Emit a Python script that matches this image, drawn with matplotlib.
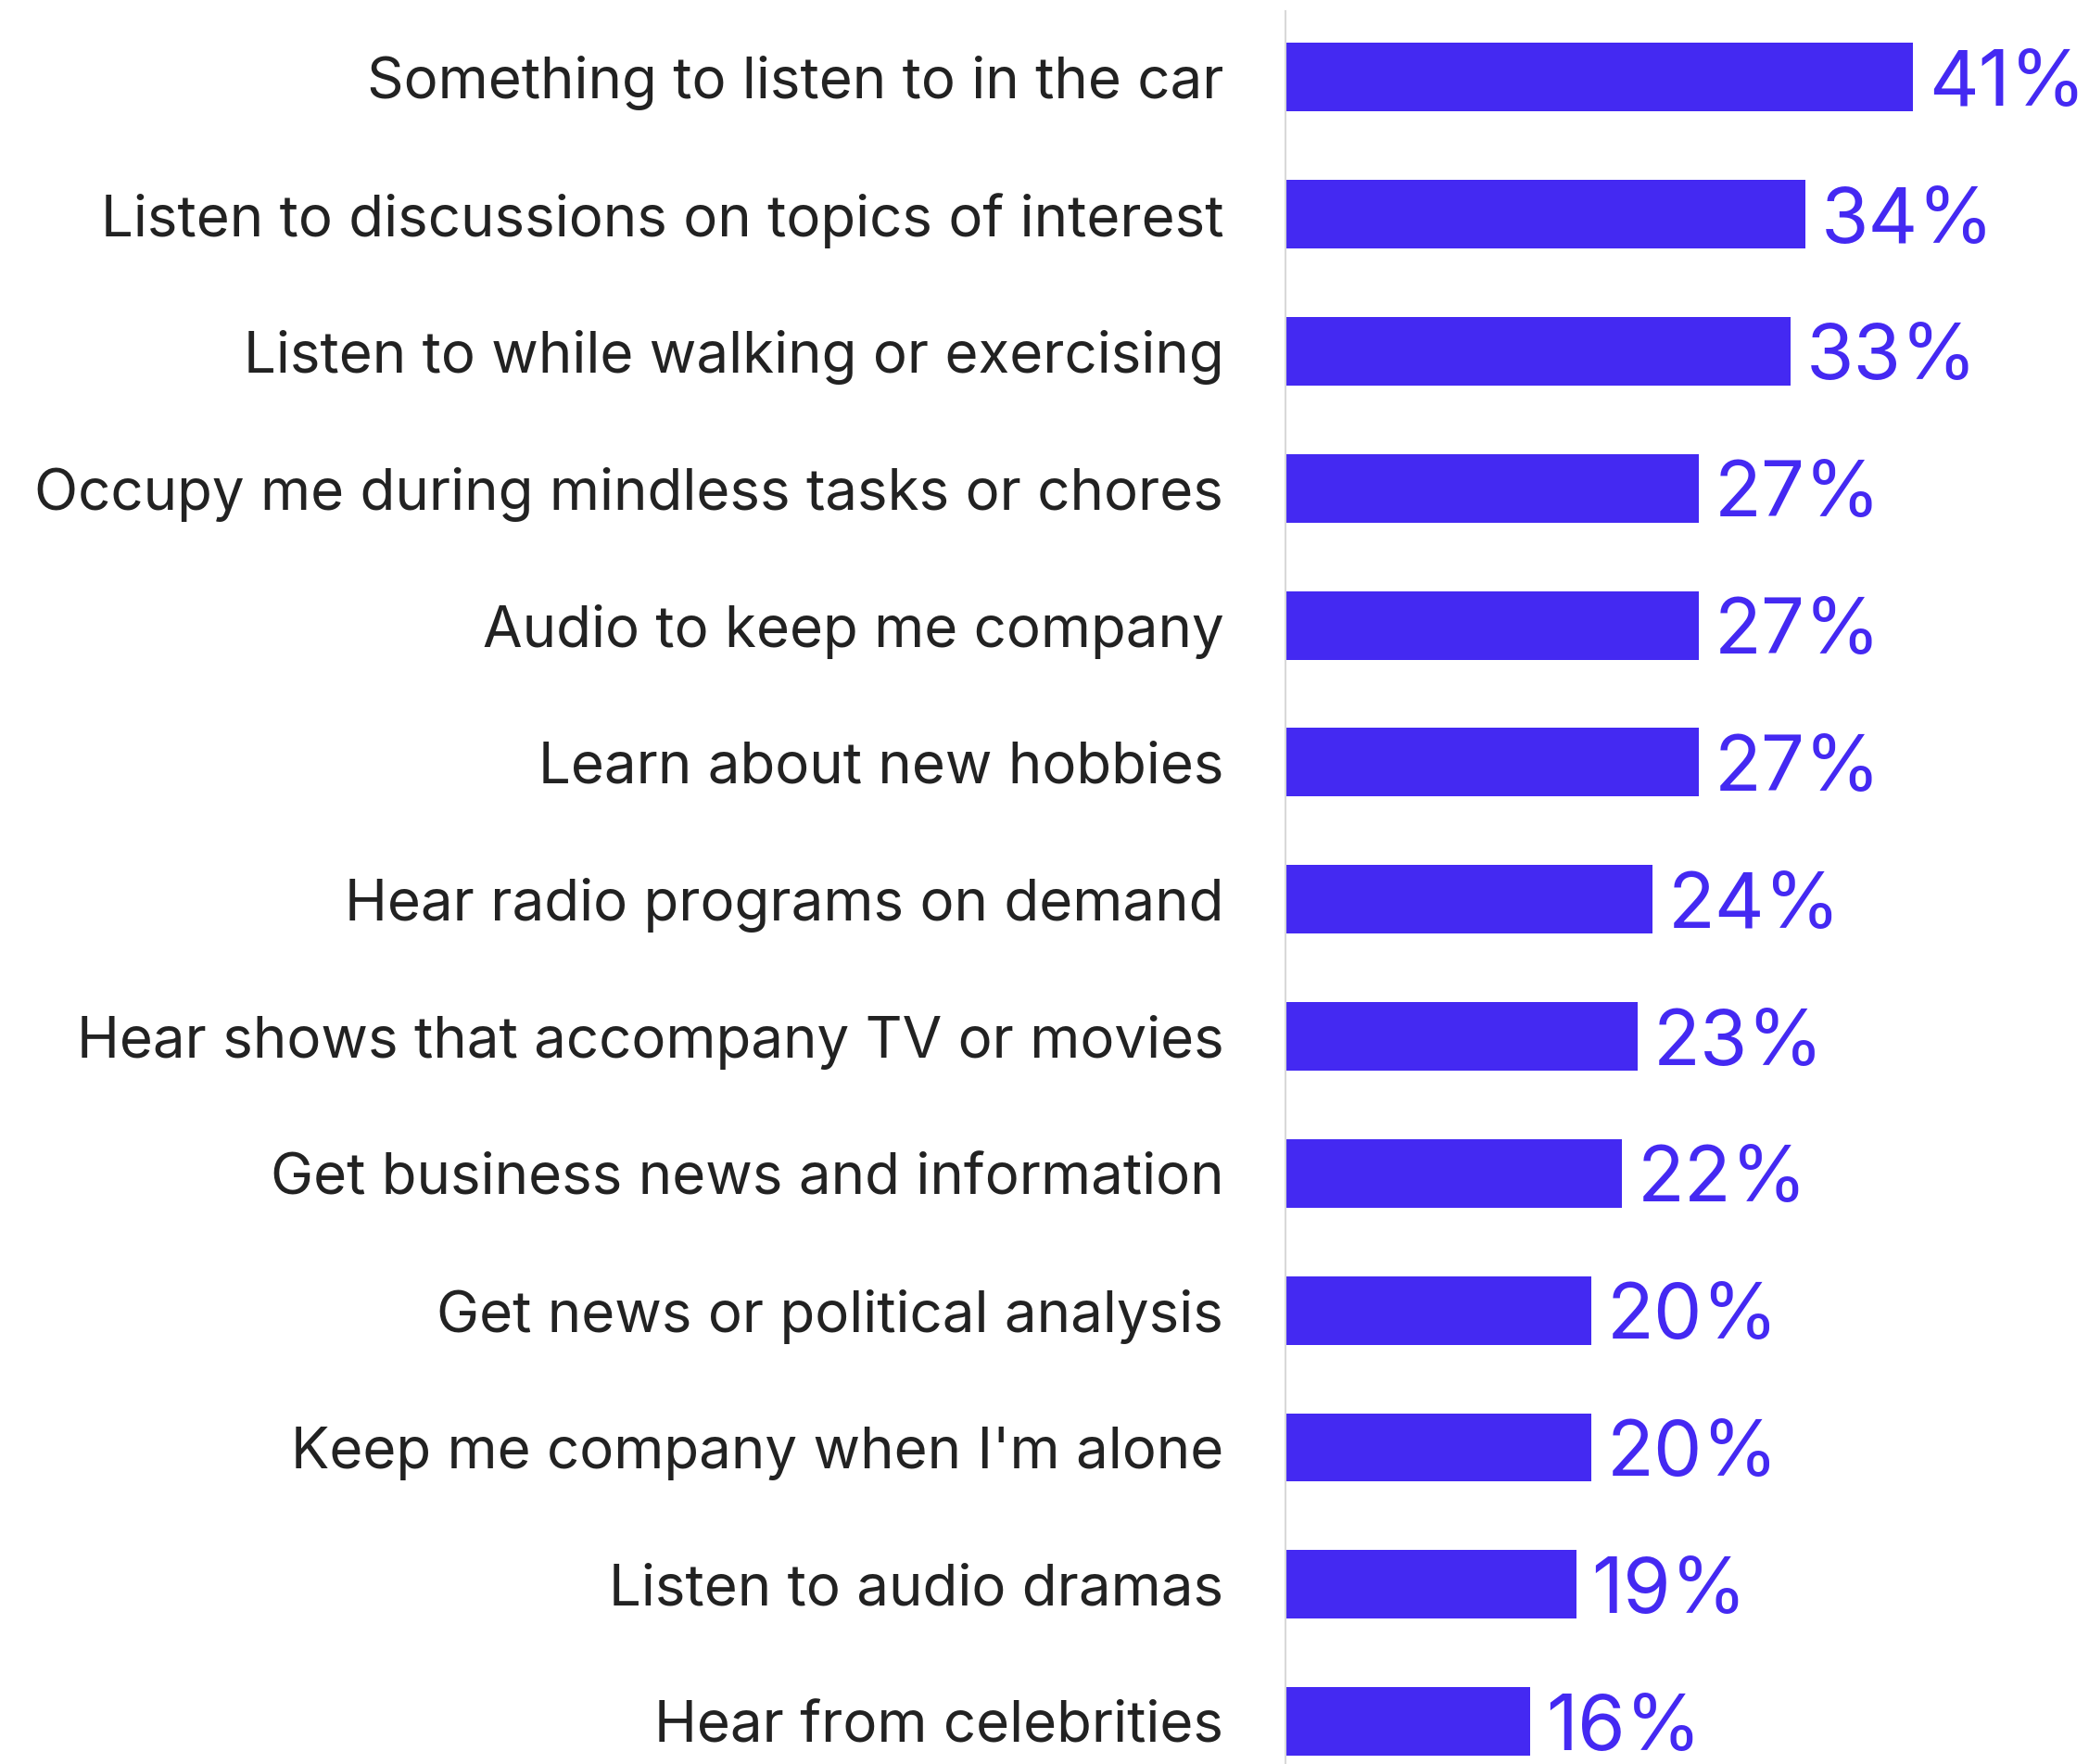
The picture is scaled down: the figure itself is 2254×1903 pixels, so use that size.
import matplotlib.pyplot as plt

# Причины слушать подкасты, доля ответов (%)
reasons = [
    'Something to listen to in the car',
    'Listen to discussions on topics of interest',
    'Listen to while walking or exercising',
    'Occupy me during mindless tasks or chores',
    'Audio to keep me company',
    'Learn about new hobbies',
    'Hear radio programs on demand',
    'Hear shows that accompany TV or movies',
    'Get business news and information',
    'Get news or political analysis',
    "Keep me company when I'm alone",
    'Listen to audio dramas',
    'Hear from celebrities',
]
shares = [41, 34, 33, 27, 27, 27, 24, 23, 22, 20, 20, 19, 16]

bar_color = '#4429F2'
text_color = '#222222'

plt.rcParams['font.family'] = ['Inter', 'DejaVu Sans']

fig = plt.figure(figsize=(22.54, 19.03), dpi=100)
# оси начинаются там, где вертикальная линия; подписи категорий слева
ax = fig.add_axes([1387/2254, 0.0, 1 - 1387/2254, 1 - 11.5/1903])

y = list(range(len(reasons)))
bars = ax.barh(y, shares, height=0.5, color=bar_color)

ax.set_ylim(12.31, -0.486)
ax.set_xlim(0, 52.5)

ax.set_yticks(y)
ax.set_yticklabels(reasons, fontsize=44.5, color=text_color)
for lbl in ax.get_yticklabels():
    lbl.set_va('center_baseline')
ax.tick_params(axis='y', length=0, pad=48)
ax.set_xticks([])

for s in ['top', 'right', 'bottom']:
    ax.spines[s].set_visible(False)
ax.spines['left'].set_color('#d9d9d9')
ax.spines['left'].set_linewidth(1.5)

# подписи значений справа от столбцов
for yi, v in zip(y, shares):
    ax.annotate(f'{v}%', xy=(v, yi), xytext=(12, 0), textcoords='offset points',
                ha='left', va='center_baseline', fontsize=60, color=bar_color)

fig.savefig('out.png', dpi=100)
